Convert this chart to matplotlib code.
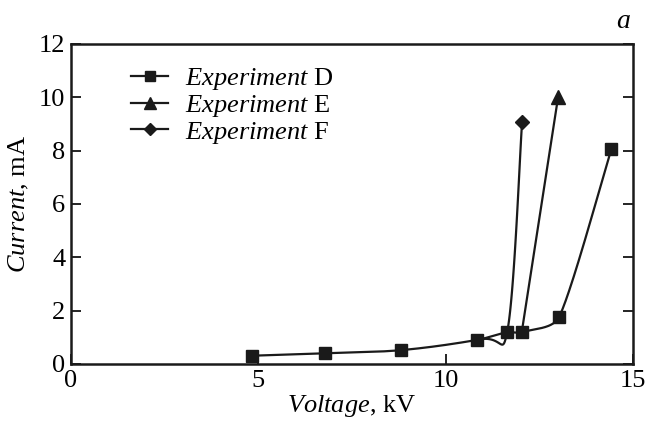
import numpy as np
import matplotlib
matplotlib.use("Agg")
import matplotlib.pyplot as plt

plt.rcParams['font.family'] = ['Liberation Serif']
plt.rcParams['mathtext.fontset'] = 'custom'
plt.rcParams['mathtext.rm'] = 'Liberation Serif'
plt.rcParams['mathtext.it'] = 'Liberation Serif:italic'

# Data
d_v = [4.82, 6.78, 8.81, 10.83, 11.64, 12.03, 13.03, 14.42]
d_i = [0.31, 0.40, 0.52, 0.90, 1.19, 1.19, 1.77, 8.05]
e_v = [12.03, 13.0]
e_i = [1.19, 10.0]
f_v = [10.83, 11.64, 12.04]
f_i = [0.90, 1.19, 9.07]
labels = [r"$\mathit{Experiment}$ D", r"$\mathit{Experiment}$ E", r"$\mathit{Experiment}$ F"]

SX, SY = 37.47, 26.67  # approximate pixel scale used for curve parameterisation


def smooth(x, y, tension=None, n=50):
    p = np.column_stack([np.asarray(x, float) * SX, np.asarray(y, float) * SY])
    if len(p) < 3:
        return p[:, 0] / SX, p[:, 1] / SY
    if tension is None:
        tension = [1.0] * (len(p) - 1)
    u = np.zeros_like(p)
    u[0] = p[1] - p[0]
    u[-1] = p[-1] - p[-2]
    u[1:-1] = p[2:] - p[:-2]
    u /= np.linalg.norm(u, axis=1)[:, None]
    t = np.linspace(0, 1, n)[:, None]
    h00 = 2 * t**3 - 3 * t**2 + 1
    h10 = t**3 - 2 * t**2 + t
    h01 = -2 * t**3 + 3 * t**2
    h11 = t**3 - t**2
    out = []
    for k in range(len(p) - 1):
        L = np.linalg.norm(p[k + 1] - p[k]) * tension[k]
        seg = h00 * p[k] + h10 * u[k] * L + h01 * p[k + 1] + h11 * u[k + 1] * L
        out.append(seg if k == 0 else seg[1:])
    out = np.vstack(out)
    return out[:, 0] / SX, out[:, 1] / SY


fig = plt.figure(figsize=(6.47, 4.32), dpi=100)
ax = fig.add_axes([71 / 647, 1 - 364 / 432, (633 - 71) / 647, (364 - 44) / 432])

col = '#1a1a1a'
lw = 1.6
curves = [
    (smooth(d_v, d_i, [1, 1, 1, 1, 1, 1, 0.5]), d_v, d_i, 's', 9, 6.5, None),
    (smooth(e_v, e_i), e_v, e_i, '^', 10, 8, [len(e_v) - 1]),
    (smooth(f_v, f_i, [2.6, 0.5]), f_v, f_i, 'D', 7, 6.5, [len(f_v) - 1]),
]
for (sxy, xv, yv, mk, ms, lms, every), lab in zip(curves, labels):
    sx, sy = sxy
    ax.plot(sx, sy, color=col, lw=lw, zorder=2)
    idx = range(len(xv)) if every is None else every
    ax.plot([xv[i] for i in idx], [yv[i] for i in idx], ls='none',
            marker=mk, ms=ms, color=col, zorder=3)
    ax.plot([], [], color=col, lw=lw, marker=mk, ms=lms, label=lab)

ax.set_xlim(0, 15)
ax.set_ylim(0, 12)
ax.set_xticks([0, 5, 10, 15])
ax.set_yticks([0, 2, 4, 6, 8, 10, 12])
ax.tick_params(direction='in', length=7, width=1.2, labelsize=19, pad=4,
               left=True, right=True, bottom=True, top=False)
for s in ax.spines.values():
    s.set_linewidth(1.8)
    s.set_color(col)

ax.set_xlabel(r"$\mathit{Voltage}$, kV", fontsize=19, labelpad=1)
ax.set_ylabel(r"$\mathit{Current}$, mA", fontsize=19, labelpad=6)

leg = ax.legend(loc='upper left', bbox_to_anchor=(0.074, 0.9875), frameon=False,
                fontsize=19, handlelength=1.4, handletextpad=0.65, labelspacing=0.02,
                borderpad=0.2)

fig.text(623 / 647, 1 - 22 / 432, r"$\mathit{a}$", fontsize=20, ha='center', va='center')

fig.savefig("out.png", dpi=100)
